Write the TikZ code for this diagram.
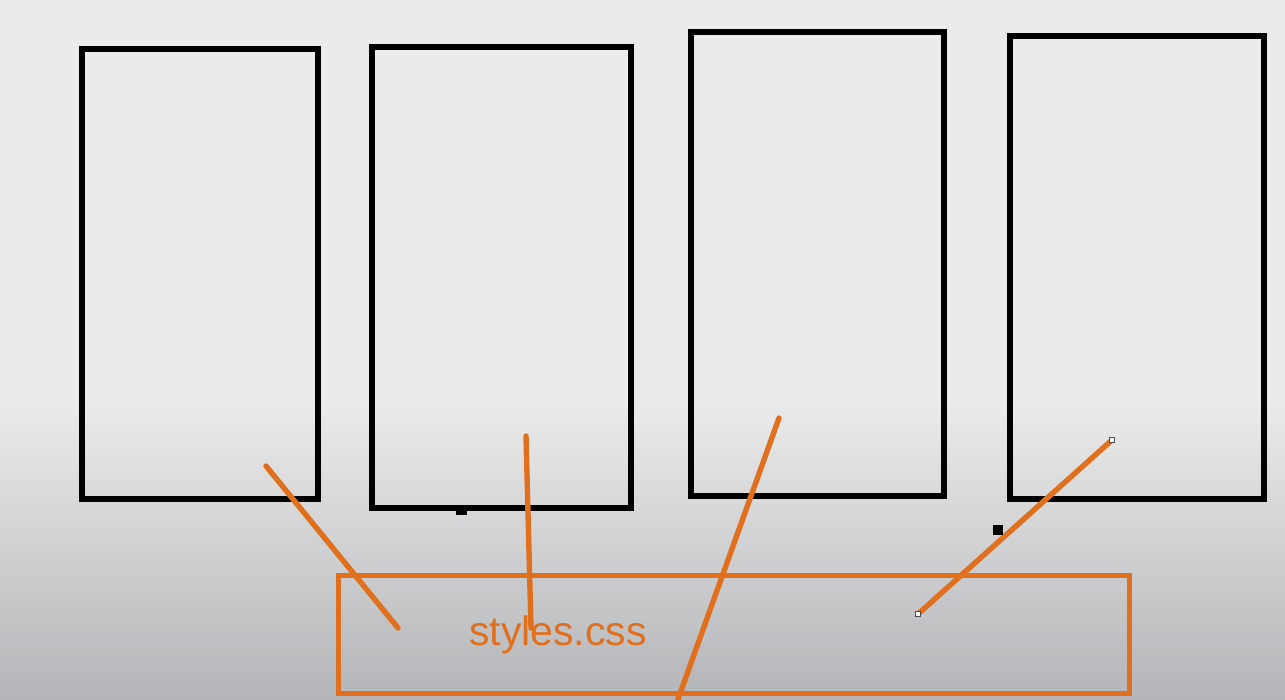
\documentclass[tikz,border=0pt]{standalone}
\usepackage{fontspec}
\setmainfont{Liberation Sans}
\usetikzlibrary{calc}
\definecolor{bgtop}{HTML}{EBEBEB}
\definecolor{bgbot}{HTML}{B4B5B8}
\definecolor{orng}{HTML}{E0701E}
\begin{document}
\begin{tikzpicture}[x=1pt,y=-1pt,
  page/.style={draw=black,line width=5.8pt},
  cssbox/.style={draw=orng,line width=5pt},
  link/.style={draw=orng,line width=5.4pt,line cap=round},
  handle/.style={draw=black!70,fill=white,line width=0.6pt},
  dot/.style={fill=black}]
\useasboundingbox (0,0) rectangle (1285,700);
\fill[bgtop] (0,0) rectangle (1285,401);
\shade[top color=bgtop,bottom color=bgbot] (0,400) rectangle (1285,700);
% pages
\draw[page] (82,49) rectangle (318,499);
\draw[page] (372,47) rectangle (631,508);
\draw[page] (691,32) rectangle (944,496);
\draw[page] (1010,36) rectangle (1264,499);
% css box
\draw[cssbox] (338,575) rectangle (1129,693);
\node[text=orng,font=\fontsize{41}{45}\selectfont,anchor=base] (css) at (558,645) {styles.css};
% links
\coordinate (a1) at (266,466); \coordinate (b1) at (398,628);
\coordinate (a2) at (526,436); \coordinate (b2) at (531,628);
\coordinate (a3) at (779,418); \coordinate (b3) at (677,702);
\coordinate (a4) at (1112,440); \coordinate (b4) at (918,614);
\draw[link] (a1) -- (b1);
\draw[link] (a2) -- (b2);
\draw[link] (a3) -- (b3);
\draw[link] (a4) -- (b4);
\draw[handle] ($(a4)+(-2.5,-2.5)$) rectangle ++(5,5);
\draw[handle] ($(b4)+(-2.5,-2.5)$) rectangle ++(5,5);
% small marks
\fill[dot] (456,508) rectangle (467,515);
\fill[dot] (993,525) rectangle (1003,535);
\end{tikzpicture}
\end{document}
